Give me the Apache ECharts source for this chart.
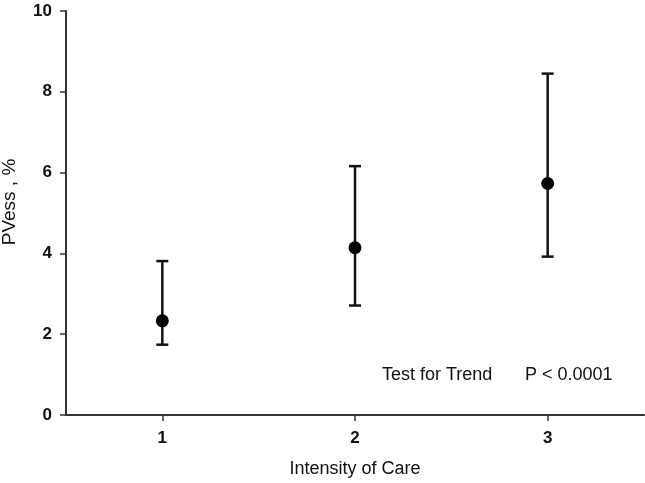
<!DOCTYPE html>
<html><head><meta charset="utf-8">
<script src="https://cdn.jsdelivr.net/npm/echarts@6/dist/echarts.min.js"></script>
<style>html,body{margin:0;padding:0;background:#fff}#c{width:645px;height:483px}</style>
</head><body><div id="c"></div>
<script>
const categories = [1, 2, 3];
const means = [2.33, 4.14, 5.73];
const lowers = [1.74, 2.71, 3.92];
const uppers = [3.81, 6.16, 8.45];
const yTicks = [0, 2, 4, 6, 8, 10];
const xTitle = 'Intensity of Care';
const yTitle = 'PVess , %';
const noteLeft = 'Test for Trend';
const noteRight = 'P < 0.0001';

const font = 'Liberation Sans, Arial, sans-serif';
const chart = echarts.init(document.getElementById('c'));
const errData = categories.map((c, i) => [c, lowers[i], uppers[i]]);
chart.setOption({
  animation: false,
  grid: { left: 66, right: 1, top: 11, bottom: 68, containLabel: false, outerBoundsMode: 'none' },
  xAxis: {
    type: 'value', min: 0.5, max: 3.5, interval: 0.5,
    name: xTitle, nameLocation: 'middle', nameGap: 45,
    nameTextStyle: { fontFamily: font, fontSize: 18, color: '#111' },
    axisLine: { lineStyle: { color: '#333', width: 2 } },
    axisTick: { show: true, length: 6, lineStyle: { color: '#333', width: 1.5 }, customValues: categories },
    splitLine: { show: false },
    axisLabel: {
      fontFamily: font, fontSize: 17, fontWeight: 'bold', color: '#111', margin: 15,
      customValues: categories,
      formatter: v => categories.includes(v) ? String(v) : ''
    }
  },
  yAxis: {
    type: 'value', min: 0, max: 10, interval: 2,
    name: yTitle, nameLocation: 'middle', nameGap: 47, nameRotate: 90,
    nameTextStyle: { fontFamily: font, fontSize: 19, color: '#111', padding: [0, 0, 0, 22] },
    axisLine: { show: true, lineStyle: { color: '#333', width: 2 } },
    axisTick: { show: true, length: 6, lineStyle: { color: '#333', width: 1.5 } },
    splitLine: { show: false },
    axisLabel: {
      fontFamily: font, fontSize: 17, fontWeight: 'bold', color: '#111', margin: 14,
      formatter: v => yTicks.includes(v) ? String(v) : ''
    }
  },
  graphic: [
    { type: 'text', left: 382, top: 366,
      style: { text: noteLeft, fontFamily: font, fontSize: 18, fill: '#111' } },
    { type: 'text', left: 525, top: 366,
      style: { text: noteRight, fontFamily: font, fontSize: 18, fill: '#111' } }
  ],
  series: [
    {
      type: 'custom',
      data: errData,
      renderItem: (params, api) => {
        const x = api.value(0);
        const lo = api.coord([x, api.value(1)]);
        const hi = api.coord([x, api.value(2)]);
        const hw = 6;
        const st = { stroke: '#111', lineWidth: 2.5 };
        return {
          type: 'group',
          children: [
            { type: 'line', shape: { x1: lo[0], y1: lo[1], x2: hi[0], y2: hi[1] }, style: st },
            { type: 'line', shape: { x1: lo[0] - hw, y1: lo[1], x2: lo[0] + hw, y2: lo[1] }, style: st },
            { type: 'line', shape: { x1: hi[0] - hw, y1: hi[1], x2: hi[0] + hw, y2: hi[1] }, style: st }
          ]
        };
      },
      z: 2
    },
    {
      type: 'scatter',
      data: categories.map((c, i) => [c, means[i]]),
      symbol: 'circle', symbolSize: 13,
      itemStyle: { color: '#000', opacity: 1 },
      z: 3
    }
  ]
});
</script>
</body></html>
